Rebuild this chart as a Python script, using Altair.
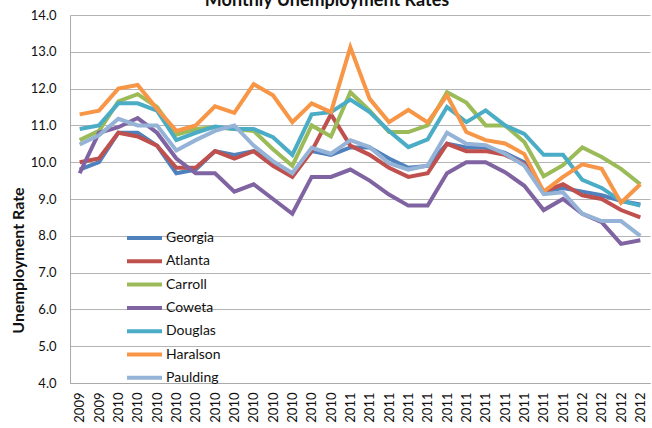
import altair as alt
import pandas as pd

chart_title = "Monthly Unemployment Rates"

months = ["2009-11", "2009-12",
          "2010-01", "2010-02", "2010-03", "2010-04", "2010-05", "2010-06",
          "2010-07", "2010-08", "2010-09", "2010-10", "2010-11", "2010-12",
          "2011-01", "2011-02", "2011-03", "2011-04", "2011-05", "2011-06",
          "2011-07", "2011-08", "2011-09", "2011-10", "2011-11", "2011-12",
          "2012-01", "2012-02", "2012-03", "2012-04"]

series_names = ["Georgia", "Atlanta", "Carroll", "Coweta", "Douglas", "Haralson", "Paulding"]
series_colors = ["#4F81BD", "#C0504D", "#9BBB59", "#8064A2", "#4BACC6", "#F79646", "#95B3D7"]

georgia = [9.8, 10.0, 10.8, 10.8, 10.45, 9.7, 9.8, 10.3, 10.2, 10.3, 10.0, 9.7, 10.3, 10.2, 10.4,
           10.4, 10.1, 9.85, 9.9, 10.5, 10.4, 10.4, 10.25, 10.0, 9.2, 9.3, 9.2, 9.1, 8.95, 8.85]
atlanta = [10.0, 10.1, 10.8, 10.7, 10.45, 9.85, 9.85, 10.3, 10.1, 10.3, 9.9, 9.6, 10.3, 11.3, 10.45,
           10.2, 9.85, 9.6, 9.7, 10.5, 10.3, 10.3, 10.2, 9.95, 9.2, 9.4, 9.1, 9.0, 8.7, 8.5]
carroll = [10.6, 10.85, 11.65, 11.85, 11.5, 10.75, 10.9, 10.95, 10.9, 10.85, 10.35, 9.9, 11.0, 10.7, 11.9,
           11.4, 10.82, 10.82, 11.0, 11.9, 11.62, 11.0, 11.0, 10.55, 9.62, 9.92, 10.4, 10.14, 9.82, 9.4]
coweta = [9.7, 10.8, 10.95, 11.2, 10.8, 10.1, 9.7, 9.7, 9.2, 9.4, 9.0, 8.6, 9.6, 9.6, 9.8,
          9.5, 9.12, 8.82, 8.82, 9.7, 10.0, 10.0, 9.73, 9.36, 8.7, 9.0, 8.6, 8.37, 7.78, 7.88]
douglas = [10.9, 11.0, 11.6, 11.6, 11.4, 10.6, 10.8, 10.97, 10.9, 10.9, 10.68, 10.2, 11.3, 11.36, 11.7,
           11.36, 10.85, 10.41, 10.62, 11.5, 11.09, 11.41, 11.0, 10.77, 10.2, 10.2, 9.52, 9.3, 8.95, 8.82]
haralson = [11.3, 11.4, 12.0, 12.1, 11.45, 10.85, 11.0, 11.52, 11.34, 12.12, 11.82, 11.09, 11.6, 11.36, 13.12,
            11.72, 11.09, 11.42, 11.08, 11.82, 10.82, 10.6, 10.51, 10.22, 9.2, 9.6, 9.94, 9.82, 8.9, 9.4]
paulding = [10.48, 10.73, 11.18, 11.0, 11.0, 10.32, 10.6, 10.85, 11.0, 10.45, 10.03, 9.7, 10.39, 10.23, 10.6,
            10.41, 9.97, 9.8, 9.91, 10.8, 10.5, 10.46, 10.23, 9.91, 9.13, 9.18, 8.6, 8.4, 8.4, 8.0]

y_ticks = [4.0, 5.0, 6.0, 7.0, 8.0, 9.0, 10.0, 11.0, 12.0, 13.0, 14.0]

all_values = [georgia, atlanta, carroll, coweta, douglas, haralson, paulding]
rows = []
for k, (name, vals) in enumerate(zip(series_names, all_values)):
    for m, v in zip(months, vals):
        rows.append({"month": m, "area": name, "rate": v, "order": k})
df = pd.DataFrame(rows)
title_df = pd.DataFrame({"t": [chart_title]})

FONT = "Lato"

lines = alt.Chart(df).mark_line(strokeWidth=4, strokeJoin="miter").encode(
    x=alt.X("month:O", sort=months,
            axis=alt.Axis(title=None, labelExpr="slice(datum.label, 0, 4)", labelAngle=270,
                          labelAlign="right", labelBaseline="middle", labelPadding=9,
                          labelFontSize=13, labelFont=FONT, labelColor="#111", ticks=False,
                          domainColor="#aaaaaa", grid=False, labelOverlap=False)),
    y=alt.Y("rate:Q", scale=alt.Scale(domain=[4, 14], nice=False, zero=False),
            axis=alt.Axis(title="Unemployment Rate", values=y_ticks, format=".1f",
                          labelFontSize=13, labelFont=FONT, labelColor="#111", labelPadding=14,
                          ticks=False, domainColor="#aaaaaa", gridColor="#b4b4b4",
                          titleFont=FONT, titleFontSize=16, titleFontWeight="bold",
                          titleColor="#111", titleAngle=270, titleX=-52, titleY=245,
                          titleAlign="center", titleBaseline="middle")),
    color=alt.Color("area:N", sort=series_names,
                    scale=alt.Scale(domain=series_names, range=series_colors),
                    legend=alt.Legend(orient="none", legendX=55, legendY=214, title=None,
                                      symbolType="stroke", symbolSize=1225, symbolStrokeWidth=4,
                                      labelFontSize=14, labelFont=FONT, labelColor="#111",
                                      clipHeight=18, rowPadding=5.3, labelOffset=2, padding=0)),
    order=alt.Order("order:Q"),
)

title_text = alt.Chart(title_df).mark_text(
    font=FONT, fontSize=18, fontWeight="bold", color="#111",
    align="center", baseline="alphabetic"
).encode(
    x=alt.value(257), y=alt.value(-9), text="t:N"
)

chart = alt.layer(lines, title_text).properties(
    width=580, height=368,
    autosize=alt.AutoSizeParams(type="none"),
    padding={"left": 70, "top": 15, "right": 2, "bottom": 45},
).configure_view(stroke=None)

chart.save("out.html", embed_options={"renderer": "svg", "actions": False})
